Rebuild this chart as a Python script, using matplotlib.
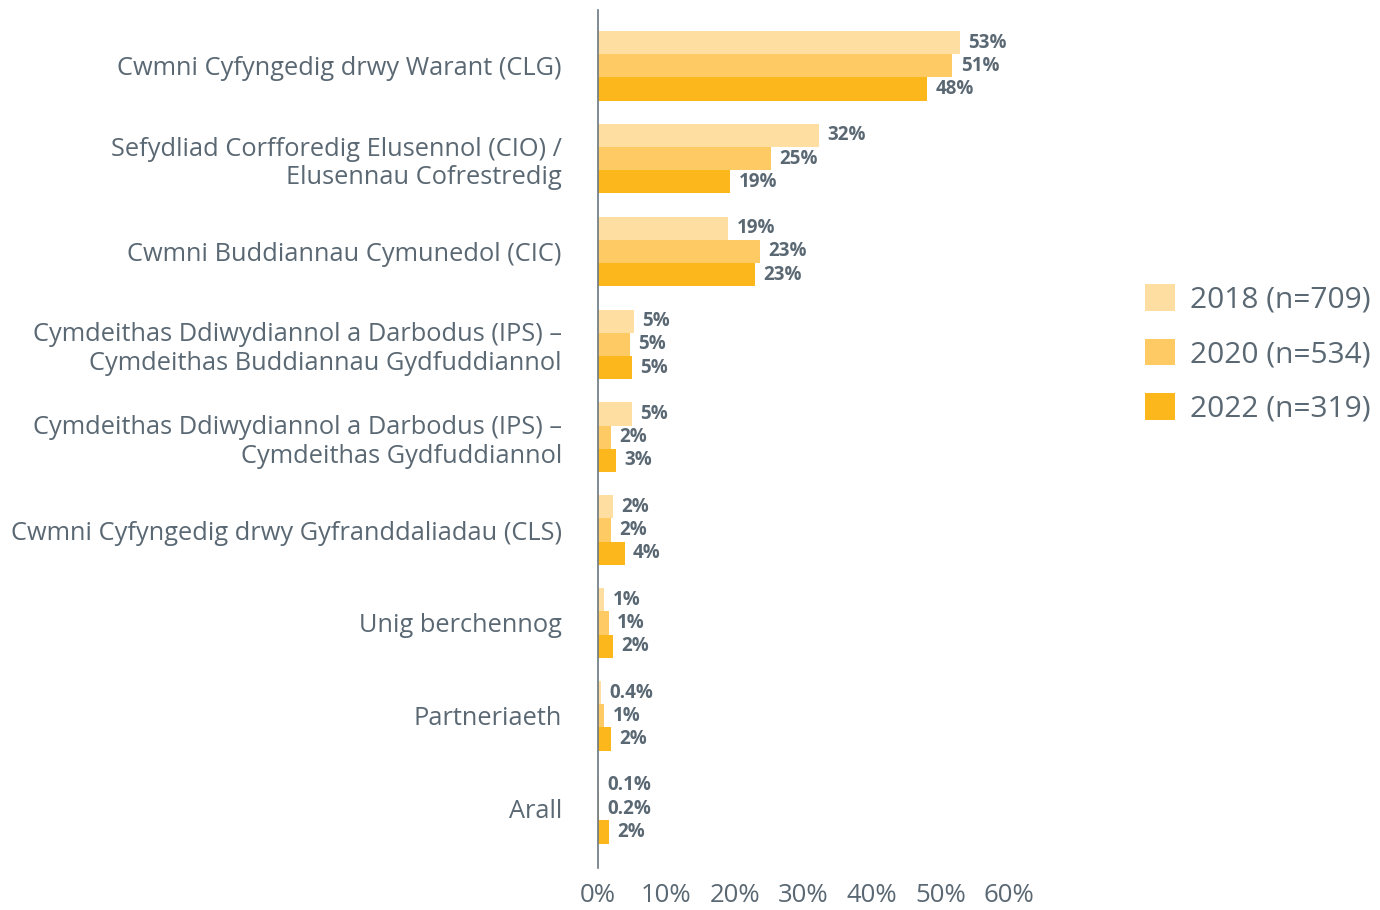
import numpy as np
import matplotlib.pyplot as plt

# categories (top to bottom)
categories = [
    "Cwmni Cyfyngedig drwy Warant (CLG)",
    "Sefydliad Corfforedig Elusennol (CIO) /\nElusennau Cofrestredig",
    "Cwmni Buddiannau Cymunedol (CIC)",
    "Cymdeithas Ddiwydiannol a Darbodus (IPS) \u2013\nCymdeithas Buddiannau Gydfuddiannol",
    "Cymdeithas Ddiwydiannol a Darbodus (IPS) \u2013\nCymdeithas Gydfuddiannol",
    "Cwmni Cyfyngedig drwy Gyfranddaliadau (CLS)",
    "Unig berchennog",
    "Partneriaeth",
    "Arall",
]

series_names = ["2018 (n=709)", "2020 (n=534)", "2022 (n=319)"]

vals_2018 = [52.8, 32.3, 19.0, 5.3, 5.0, 2.2, 0.9, 0.4, 0.1]
vals_2020 = [51.7, 25.3, 23.6, 4.7, 1.9, 1.9, 1.6, 0.9, 0.2]
vals_2022 = [48.0, 19.3, 22.9, 5.0, 2.6, 3.9, 2.2, 1.9, 1.6]

labels_2018 = ["53%", "32%", "19%", "5%", "5%", "2%", "1%", "0.4%", "0.1%"]
labels_2020 = ["51%", "25%", "23%", "5%", "2%", "2%", "1%", "1%", "0.2%"]
labels_2022 = ["48%", "19%", "23%", "5%", "3%", "4%", "2%", "2%", "2%"]

colors = ["#FEDFA1", "#FECA63", "#FBB71B"]
text_col = "#5A6873"

plt.rcParams['font.family'] = ['Open Sans', 'DejaVu Sans']

fig = plt.figure(figsize=(13.8, 9.1), dpi=100)
ax = fig.add_axes([0.4333, 0.046, 0.298, 0.943])

y = np.arange(len(categories))
h = 0.25
series = [vals_2018, vals_2020, vals_2022]
labels = [labels_2018, labels_2020, labels_2022]
for i, (vals, labs) in enumerate(zip(series, labels)):
    pos = y + (i - 1) * h
    bars = ax.barh(pos, vals, height=h, color=colors[i], label=series_names[i])
    for b, lab in zip(bars, labs):
        ax.annotate(lab, (b.get_width(), b.get_y() + b.get_height() / 2),
                    xytext=(6, 0), textcoords='offset points',
                    va='center', ha='left', fontsize=13.5, fontweight='bold',
                    color=text_col)

ax.set_xlim(0, 60)
ax.set_ylim(8.64, -0.6)
ax.set_xticks(np.arange(0, 61, 10))
ax.set_xticklabels([f"{t}%" for t in range(0, 61, 10)])
ax.set_yticks(y)
ax.set_yticklabels(categories)

ax.tick_params(axis='y', length=0, pad=26, labelsize=18.3, labelcolor=text_col)
ax.tick_params(axis='x', length=0, pad=11, labelsize=18.5, labelcolor=text_col)
for s in ['top', 'right', 'bottom']:
    ax.spines[s].set_visible(False)
ax.spines['left'].set_color('#6B7780')
ax.spines['left'].set_linewidth(1.2)

leg = ax.legend(loc='center right', bbox_to_anchor=(0.993, 0.611),
                bbox_transform=fig.transFigure, frameon=False,
                fontsize=21.5, handlelength=1.0, handleheight=1.0,
                labelspacing=0.8, handletextpad=0.5, borderpad=0.0,
                borderaxespad=0.0)
for t in leg.get_texts():
    t.set_color(text_col)

fig.savefig("out.png", dpi=100)
